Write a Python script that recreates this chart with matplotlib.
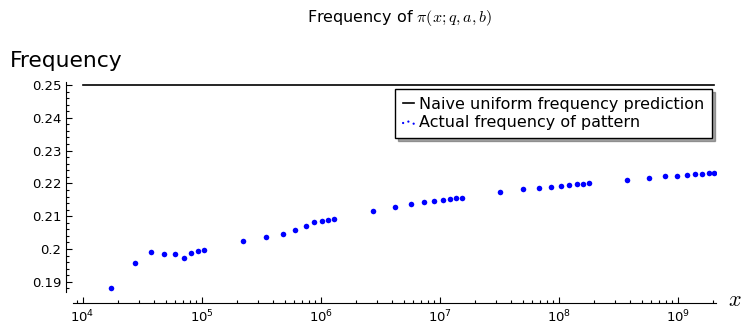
import matplotlib
matplotlib.use("Agg")
import matplotlib.pyplot as plt
from matplotlib.ticker import FixedLocator, FuncFormatter, LogLocator
from matplotlib.legend_handler import HandlerPathCollection

plt.rcParams["mathtext.fontset"] = "cm"

# data
x_vals = [17389, 27449, 37813, 48611, 59359, 70657, 81799, 93179, 104729,
          224737, 350377, 479909, 611953, 746773, 882377, 1020379, 1159523, 1299709,
          2750159, 4256233, 5800079, 7368787, 8960453, 10570841, 12195257, 13834103, 15485863,
          32452843, 49979687, 67867967, 86028121, 104395301, 122949823, 141650939, 160481183, 179424673,
          373587883, 573259391, 776531401, 982451653, 1190494759, 1398341745, 1611623773, 1824261409, 2038074743]
freq_vals = [0.1882, 0.1957, 0.1990, 0.1985, 0.1986, 0.1973, 0.1989, 0.1995, 0.1996,
             0.2025, 0.2038, 0.2047, 0.2058, 0.2071, 0.2081, 0.2085, 0.2088, 0.2091,
             0.2117, 0.2127, 0.2138, 0.2143, 0.2147, 0.2149, 0.2152, 0.2155, 0.2156,
             0.2173, 0.2182, 0.2187, 0.2190, 0.2193, 0.2196, 0.2198, 0.2199, 0.2202,
             0.2211, 0.2217, 0.2222, 0.2223, 0.2227, 0.2228, 0.2230, 0.2231, 0.2232]
naive_x = [1e4, 2038074743]
naive_y = [0.25, 0.25]
y_ticks = [0.19, 0.2, 0.21, 0.22, 0.23, 0.24, 0.25]

fig = plt.figure(figsize=(7.51, 3.33), dpi=100)
ax = fig.add_axes([73 / 751, 1 - 292 / 333, (716 - 73) / 751, (292 - 81.7) / 333])

ax.plot(naive_x, naive_y, color="black", lw=1.2, label="Naive uniform frequency prediction")
pts = ax.scatter(x_vals, freq_vals, s=16, color="#0000ff", linewidths=0,
                 label="Actual frequency of pattern")

ax.set_xscale("log")
ax.set_xlim(8.3e3, 2.1e9)
ax.set_ylim(0.1869, 0.2510)

ax.yaxis.set_major_locator(FixedLocator(y_ticks))
ax.yaxis.set_minor_locator(FixedLocator([0.186 + 0.002 * i for i in range(33)]))
ax.yaxis.set_major_formatter(FuncFormatter(lambda v, p: "%g" % round(v, 3)))
ax.xaxis.set_major_locator(LogLocator(base=10, numticks=20))
ax.xaxis.set_minor_locator(LogLocator(base=10, subs=range(2, 10), numticks=20))

for s in ["top", "right"]:
    ax.spines[s].set_visible(False)
ax.spines["left"].set_position(("outward", 5))
ax.spines["bottom"].set_position(("outward", 8))
ax.tick_params(which="both", direction="in", labelsize=9.5, width=0.8)
ax.tick_params(which="major", length=4)
ax.tick_params(which="minor", length=2.5)
ax.tick_params(axis="x", which="major", pad=4)

fig.text(10 / 751, 1 - 67 / 333, "Frequency", fontsize=15.7, ha="left", va="baseline")
fig.text(728 / 751, 1 - 306 / 333, "$x$", fontsize=16, ha="left", va="baseline")
fig.text(399 / 751, 1 - 18 / 333, r"Frequency of $\pi(x;q,a,b)$", fontsize=11.5,
         ha="center", va="center")

leg = ax.legend(loc="upper right", bbox_to_anchor=(712 / 751, 1 - 89 / 333),
                bbox_transform=fig.transFigure, fontsize=11.5, fancybox=False,
                shadow=True, frameon=True, handlelength=0.7, handletextpad=0.3,
                borderpad=0.5, labelspacing=0.2, borderaxespad=0,
                scatterpoints=3, markerscale=0.4,
                handler_map={pts: HandlerPathCollection(marker_pad=0.02)})
leg.get_frame().set_edgecolor("black")
leg.get_frame().set_linewidth(1.0)

fig.savefig("out.png", dpi=100)
